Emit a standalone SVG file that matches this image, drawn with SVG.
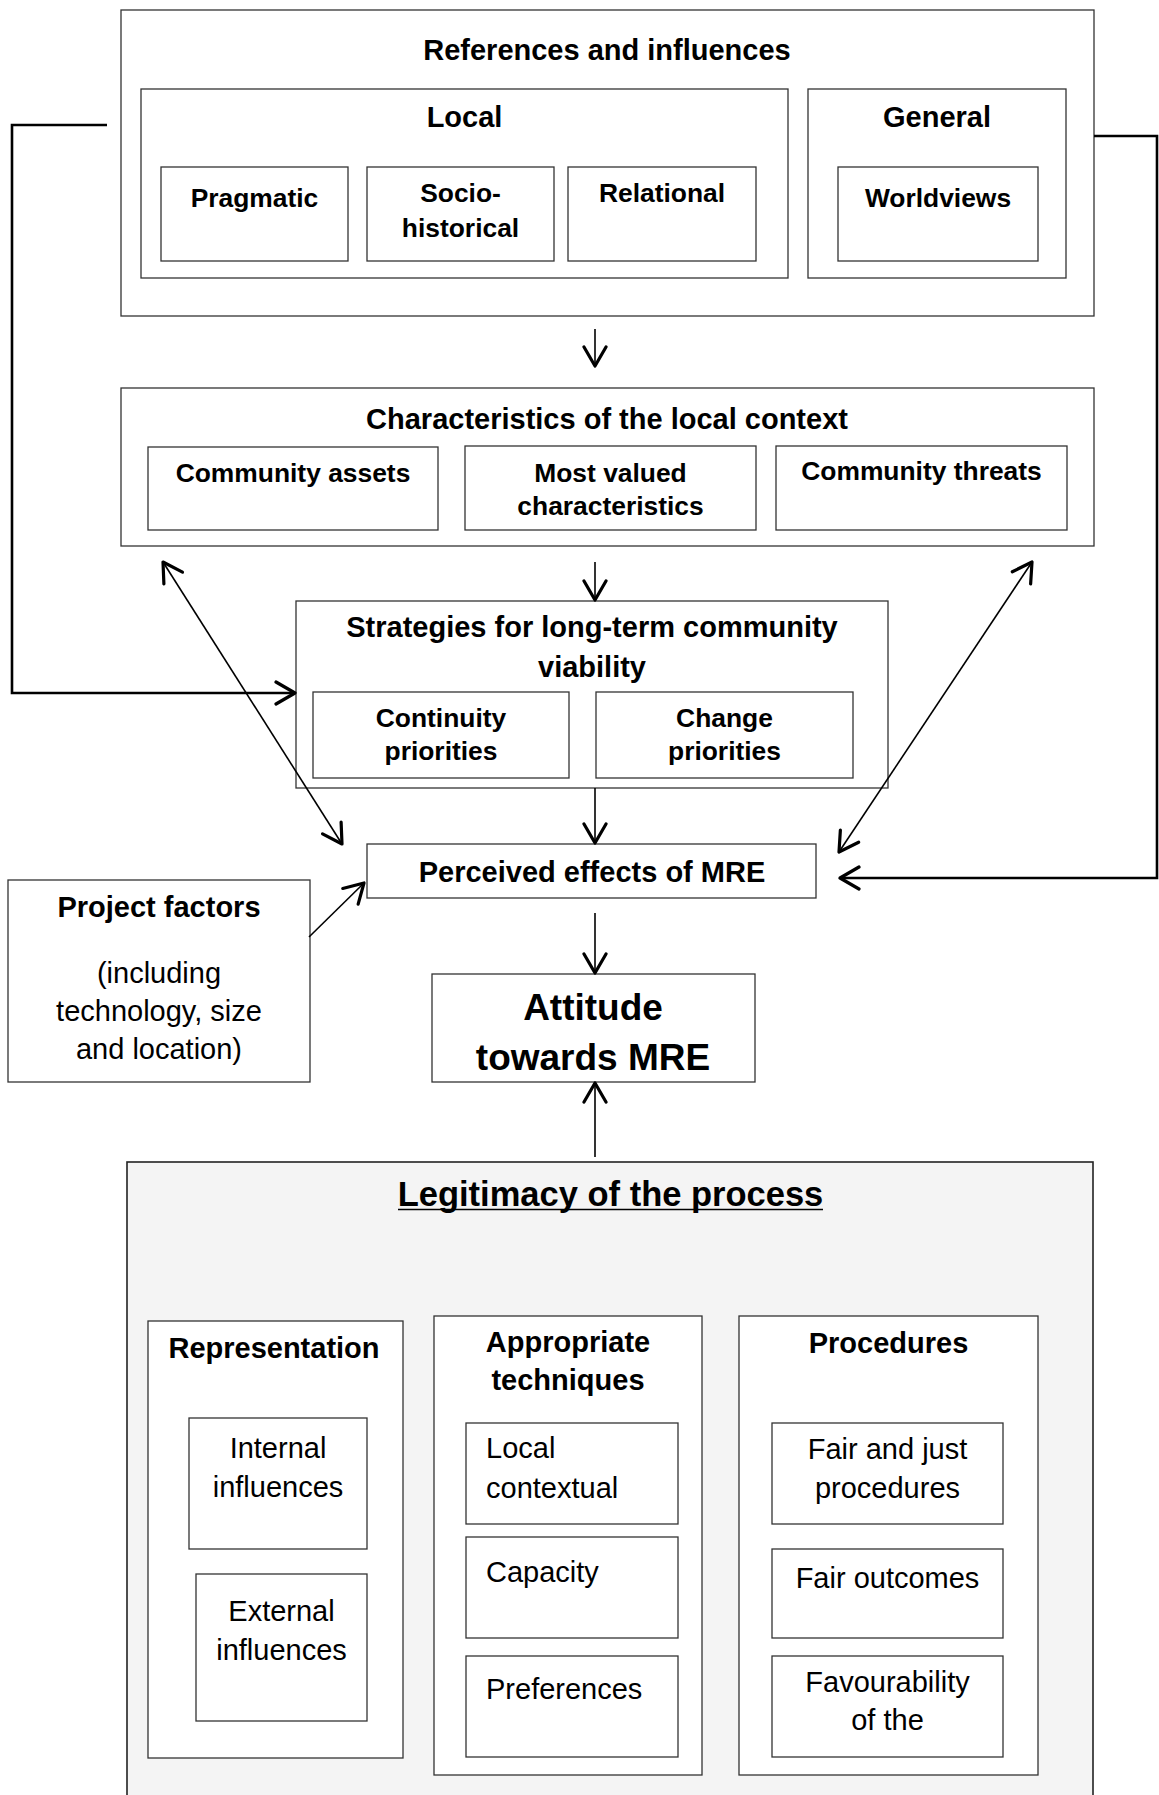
<svg xmlns="http://www.w3.org/2000/svg" width="1159" height="1795" viewBox="0 0 1159 1795">
<style>
.box{fill:#fff;stroke:#333;stroke-width:1.3}
.gbox{fill:#f4f4f4;stroke:#222;stroke-width:1.6}
text{font-family:"Liberation Sans",Arial,sans-serif;fill:#000}
.t{font-size:29px;font-weight:bold;text-anchor:middle}
.s{font-size:26.4px;font-weight:bold;text-anchor:middle}
.r{font-size:29px;text-anchor:middle}
.rl{font-size:29px}
.big{font-size:37px;font-weight:bold;text-anchor:middle}
.lt{font-size:34.5px;font-weight:bold;text-anchor:middle}
.ul{stroke:#000;stroke-width:1.6}
.thin{fill:none;stroke:#000;stroke-width:1.6}
.thick{fill:none;stroke:#000;stroke-width:2.6}
</style>
<defs>
<marker id="ah" viewBox="0 0 26 26" refX="22" refY="13" markerWidth="26" markerHeight="26" markerUnits="userSpaceOnUse" orient="auto-start-reverse">
<path d="M3,2 L22,13 L3,24" fill="none" stroke="#000" stroke-width="3.2" stroke-linecap="round" stroke-linejoin="round"/>
</marker>
</defs>

<g id="references">
<rect class="box" x="121" y="10" width="973" height="306"/>
<text class="t" x="607" y="60">References and influences</text>
<g id="local">
<rect class="box" x="141" y="89" width="647" height="189"/>
<text class="t" x="464.5" y="127">Local</text>
</g>
<g id="pragmatic"><rect class="box" x="161" y="167" width="187" height="94"/><text class="s" x="254.5" y="207">Pragmatic</text></g>
<g id="sociohistorical"><rect class="box" x="367" y="167" width="187" height="94"/><text class="s" x="460.5" y="202">Socio-</text><text class="s" x="460.5" y="237">historical</text></g>
<g id="relational"><rect class="box" x="568" y="167" width="188" height="94"/><text class="s" x="662" y="202">Relational</text></g>
<g id="general">
<rect class="box" x="808" y="89" width="258" height="189"/>
<text class="t" x="937" y="127">General</text>
</g>
<g id="worldviews"><rect class="box" x="838" y="167" width="200" height="94"/><text class="s" x="938" y="207">Worldviews</text></g>
</g>

<g id="characteristics">
<rect class="box" x="121" y="388" width="973" height="158"/>
<text class="t" x="607" y="429">Characteristics of the local context</text>
<g id="assets"><rect class="box" x="148" y="447" width="290" height="83"/><text class="s" x="293" y="482">Community assets</text></g>
<g id="mostvalued"><rect class="box" x="465" y="446" width="291" height="84"/><text class="s" x="610.5" y="482">Most valued</text><text class="s" x="610.5" y="515">characteristics</text></g>
<g id="threats"><rect class="box" x="776" y="446" width="291" height="84"/><text class="s" x="921.5" y="480">Community threats</text></g>
</g>

<g id="strategies">
<rect class="box" x="296" y="601" width="592" height="187"/>
<text class="t" x="592" y="637">Strategies for long-term community</text>
<text class="t" x="592" y="677">viability</text>
<g id="continuity"><rect class="box" x="313" y="692" width="256" height="86"/><text class="s" x="441" y="727">Continuity</text><text class="s" x="441" y="760">priorities</text></g>
<g id="change"><rect class="box" x="596" y="692" width="257" height="86"/><text class="s" x="724.5" y="727">Change</text><text class="s" x="724.5" y="760">priorities</text></g>
</g>

<g id="perceived">
<rect class="box" x="367" y="844" width="449" height="54"/>
<text class="t" x="592" y="882">Perceived effects of MRE</text>
</g>

<g id="project">
<rect class="box" x="8" y="880" width="302" height="202"/>
<text class="t" x="159" y="917">Project factors</text>
<text class="r" x="159" y="983">(including</text>
<text class="r" x="159" y="1021">technology, size</text>
<text class="r" x="159" y="1059">and location)</text>
</g>

<g id="attitude">
<rect class="box" x="432" y="974" width="323" height="108"/>
<text class="big" x="593" y="1020">Attitude</text>
<text class="big" x="593" y="1070">towards MRE</text>
</g>

<g id="legitimacy">
<rect class="gbox" x="127" y="1162" width="966" height="650"/>
<text class="lt" x="610.5" y="1206">Legitimacy of the process</text>
<line class="ul" x1="398" y1="1209.5" x2="823" y2="1209.5"/>
<g id="representation">
<rect class="box" x="148" y="1321" width="255" height="437"/>
<text class="t" x="274" y="1358">Representation</text>
<g id="internal"><rect class="box" x="189" y="1418" width="178" height="131"/><text class="r" x="278" y="1458">Internal</text><text class="r" x="278" y="1497">influences</text></g>
<g id="external"><rect class="box" x="196" y="1574" width="171" height="147"/><text class="r" x="281.5" y="1621">External</text><text class="r" x="281.5" y="1660">influences</text></g>
</g>
<g id="techniques">
<rect class="box" x="434" y="1316" width="268" height="459"/>
<text class="t" x="568" y="1352">Appropriate</text>
<text class="t" x="568" y="1390">techniques</text>
<g id="localcontextual"><rect class="box" x="466" y="1423" width="212" height="101"/><text class="rl" x="486" y="1458">Local</text><text class="rl" x="486" y="1498">contextual</text></g>
<g id="capacity"><rect class="box" x="466" y="1537" width="212" height="101"/><text class="rl" x="486" y="1582">Capacity</text></g>
<g id="preferences"><rect class="box" x="466" y="1656" width="212" height="101"/><text class="rl" x="486" y="1699">Preferences</text></g>
</g>
<g id="procedures">
<rect class="box" x="739" y="1316" width="299" height="459"/>
<text class="t" x="888.5" y="1353">Procedures</text>
<g id="fairjust"><rect class="box" x="772" y="1423" width="231" height="101"/><text class="r" x="887.5" y="1459">Fair and just</text><text class="r" x="887.5" y="1498">procedures</text></g>
<g id="fairoutcomes"><rect class="box" x="772" y="1549" width="231" height="89"/><text class="r" x="887.5" y="1588">Fair outcomes</text></g>
<g id="favourability"><rect class="box" x="772" y="1656" width="231" height="101"/><text class="r" x="887.5" y="1692">Favourability</text><text class="r" x="887.5" y="1730">of the</text></g>
</g>
</g>

<g id="connectors">
<path class="thin" d="M595,329 V366" marker-end="url(#ah)"/>
<path class="thin" d="M595,562 V600" marker-end="url(#ah)"/>
<path class="thin" d="M595,788 V843" marker-end="url(#ah)"/>
<path class="thin" d="M595,913 V973" marker-end="url(#ah)"/>
<path class="thin" d="M595,1157 V1083" marker-end="url(#ah)"/>
<path class="thick" d="M107,125 H12 V693 H295" marker-end="url(#ah)"/>
<path class="thick" d="M1094,136 H1157 V878 H840" marker-end="url(#ah)"/>
<path class="thin" d="M163,562 L342,844" marker-start="url(#ah)" marker-end="url(#ah)"/>
<path class="thin" d="M1032,562 L839,852" marker-start="url(#ah)" marker-end="url(#ah)"/>
<path class="thin" d="M309,937 L364,883" marker-end="url(#ah)"/>
</g>
</svg>
